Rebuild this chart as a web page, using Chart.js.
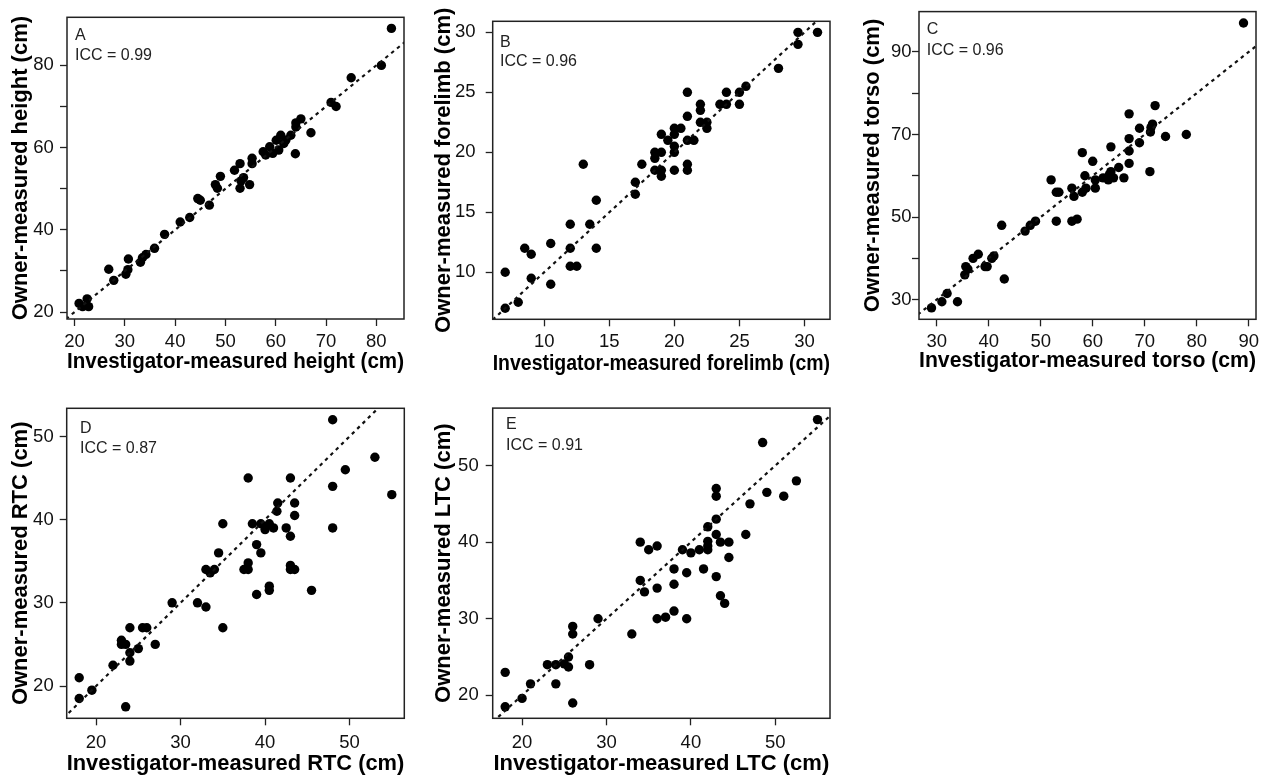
<!DOCTYPE html>
<html>
<head>
<meta charset="utf-8">
<script src="https://cdn.jsdelivr.net/npm/chart.js@4"></script>
<style>
  body { margin: 0; background: #fff; width: 1275px; height: 779px; overflow: hidden; position: relative; }
  canvas { position: absolute; }
</style>
</head>
<body>
<canvas id="pA" width="420" height="390" style="left:0;top:0"></canvas>
<canvas id="pB" width="430" height="390" style="left:420px;top:0"></canvas>
<canvas id="pC" width="425" height="390" style="left:850px;top:0"></canvas>
<canvas id="pD" width="420" height="389" style="left:0;top:390px"></canvas>
<canvas id="pE" width="430" height="389" style="left:420px;top:390px"></canvas>
<script>
// A: height (cm)
const heightInv = [83, 81, 75, 71, 72, 67, 65, 64, 64, 63.9, 61, 63, 62, 61.6, 60.1, 60.6, 58.8, 59.4, 57.5, 58,
  55.3, 55.3, 52.9, 51.8, 53.6, 53.1, 54.8, 52.9, 49, 48, 48.4, 44.5, 45, 46.8, 42.9, 41, 37.9, 35.9, 34.2, 33.5,
  33.1, 30.7, 30.6, 30.2, 26.8, 27.8, 22.5, 20.9, 21.6, 22.8];
const heightOwn = [89, 80, 77, 71, 70, 63.6, 67, 66, 65, 58.5, 63, 63, 61.8, 61, 61.8, 59.4, 60.2, 58.6, 59, 58.2,
  57.4, 56.1, 56.1, 54.5, 52.7, 51.9, 51, 50.1, 53, 51, 50.1, 47.6, 47.2, 46, 43, 41.9, 38.9, 35.5, 34, 33.2,
  32.1, 32.9, 30.3, 29.2, 30.4, 27.7, 23.2, 22.1, 21.3, 21.3];

// B: forelimb (cm)
const forelimbInv = [31, 29.5, 29.5, 28, 25.5, 25, 25, 24, 24, 23.5, 22, 22, 22, 22.5, 22.5, 21, 21, 21, 21.5, 20.5,
  20, 20, 20, 20, 20, 19.5, 19, 19, 19, 19, 18.5, 18.5, 18.5, 21, 21, 17.5, 17, 17, 13, 14,
  13.5, 14, 12, 12, 12, 12.5, 10.5, 10.5, 8.5, 9, 9, 8, 7, 7];
const forelimbOwn = [30, 30, 29, 27, 25.5, 25, 24, 25, 24, 24, 24, 23.5, 22.5, 22.5, 22, 25, 23, 21, 21, 22,
  22, 21.5, 20.5, 20, 18.5, 21, 21.5, 20, 18.5, 18, 20, 19.5, 18.5, 19, 18.5, 19, 17.5, 16.5, 19, 16,
  14, 12, 14, 12, 10.5, 10.5, 12.4, 9, 12, 11.5, 9.5, 7.5, 7, 10];

// C: torso (cm)
const torsoInv = [89, 78, 74, 72, 71.5, 71.2, 71.1, 71, 69, 69, 67, 67, 67, 67, 66, 65, 63.5, 63.5, 64, 63,
  62, 60.5, 60.5, 58.7, 60, 58.5, 58, 58, 56, 56.4, 57, 56, 53, 53, 53.5, 52, 49, 48, 47, 42.5,
  43, 41, 40.6, 39.7, 39.3, 38, 37, 35.6, 36, 35.4, 34, 32, 31, 29, 63.2];
const torsoOwn = [97, 70, 69.5, 77, 72.5, 71.7, 70.6, 61, 71.5, 68, 75, 69, 66, 63, 59.5, 62, 67, 61, 59.5, 59,
  59.5, 59, 57, 57, 63.5, 60, 65.6, 56, 57, 55, 49.5, 49, 49, 56, 56, 59, 49, 48, 46.6, 48,
  35, 40.6, 40, 38, 38, 41, 40, 38, 37.4, 36, 29.5, 31.5, 29.5, 28, 60.3];

// D: RTC (cm)
const rtcInv = [48, 53, 49.5, 48, 48, 55, 38, 43, 41.5, 43.5, 41.4, 43.5, 39.5, 38.5, 40.5, 40, 41, 42.5, 43, 39,
  39.5, 35, 34.5, 33, 33.5, 34, 38, 37.5, 38, 43, 43, 43.5, 40.5, 40.5, 39, 45.5, 32, 33, 29, 35,
  24, 25.5, 26, 23, 23, 23.5, 27, 25, 24, 24, 22, 19.5, 18, 18, 23.5];
const rtcOwn = [52, 47.5, 46, 44, 39, 43, 45, 45, 42, 42, 41, 40.5, 39.5, 39.5, 39.5, 38.8, 39, 39, 38, 37,
  36, 39.5, 36, 34, 33.6, 34, 34.8, 34, 34, 34.5, 34, 34, 32, 31.5, 31, 31.5, 30, 29.5, 30, 27,
  27, 27, 27, 25.5, 25, 25, 25, 24.5, 24, 23, 22.5, 19.5, 21, 18.5, 17.5];

// E: LTC (cm)
const ltcInv = [55, 48.5, 52.5, 49, 51, 47, 46.5, 43, 43, 43, 43, 42, 42, 42, 42, 43.5, 44.5, 44.5, 41, 40,
  39, 41.5, 39.5, 38, 38, 43, 43.5, 44, 34, 35, 36, 34, 34.5, 36, 36, 37, 38, 39.5, 29, 33,
  26, 26, 28, 25.5, 25, 25.5, 23, 24, 24, 21, 20, 26, 18, 18];
const ltcOwn = [56, 53, 48, 46.5, 46, 45, 41, 47, 46, 43, 41, 42, 40.1, 39.5, 39, 40, 40, 38, 39, 38.6,
  39, 36.5, 36, 36.5, 34.5, 35.5, 33, 32, 40, 39, 39.5, 35, 33.5, 34, 30, 30.2, 31, 30, 30, 28,
  29, 28, 24, 25, 24.1, 23.7, 24, 24, 21.5, 21.5, 19.6, 19, 23, 18.5];

// tick labels
const heightXTicks = [20, 30, 40, 50, 60, 70, 80];
const heightYTicks = [20, 30, 40, 50, 60, 70, 80];
const heightYLabels = [20, 40, 60, 80];
const forelimbTicks = [10, 15, 20, 25, 30];
const torsoXTicks = [30, 40, 50, 60, 70, 80, 90];
const torsoYTicks = [30, 40, 50, 60, 70, 80, 90];
const torsoYLabels = [30, 50, 70, 90];
const tcTicks = [20, 30, 40, 50];

const FONT = '"Liberation Sans", Arial, Helvetica, sans-serif';

// frame box + panel letter and ICC text
const boxPlugin = {
  id: 'box',
  afterDraw(chart, args, opts) {
    const { ctx, chartArea: a } = chart;
    ctx.save();
    ctx.strokeStyle = '#222';
    ctx.lineWidth = 1.5;
    ctx.strokeRect(a.left, a.top, a.right - a.left, a.bottom - a.top);
    ctx.fillStyle = '#222';
    ctx.font = '16px ' + FONT;
    ctx.textBaseline = 'alphabetic';
    ctx.fillText(opts.tag, a.left + opts.dx, a.top + opts.dy1);
    ctx.fillText(opts.icc, a.left + opts.dx, a.top + opts.dy2);
    ctx.restore();
  }
};

function panel(id, p) {
  const canvas = document.getElementById(id);
  const W = canvas.width, H = canvas.height;
  const pts = p.x.map((v, i) => ({ x: v, y: p.y[i] }));
  const lo = Math.min(p.xr[0], p.yr[0]), hi = Math.max(p.xr[1], p.yr[1]);
  const yLab = p.yLabels || p.yt;
  new Chart(canvas, {
    type: 'scatter',
    data: {
      datasets: [
        { type: 'line', data: [{ x: lo, y: lo }, { x: hi, y: hi }], borderColor: '#111', borderWidth: 2.2,
          borderDash: [3.5, 4], pointRadius: 0, fill: false },
        { data: pts, pointRadius: 4.7, backgroundColor: '#000', borderWidth: 0 }
      ]
    },
    options: {
      responsive: false,
      animation: false,
      events: [],
      layout: { padding: { top: p.box[1], right: W - p.box[2], left: 0, bottom: 0 } },
      plugins: {
        legend: { display: false },
        tooltip: { enabled: false },
        box: { tag: p.tag, icc: p.icc, dx: p.dx, dy1: p.dy1, dy2: p.dy2 }
      },
      scales: {
        x: {
          type: 'linear', min: p.xr[0], max: p.xr[1],
          afterFit: s => { s.height = H - p.box[3]; },
          afterBuildTicks: s => { s.ticks = p.xt.map(v => ({ value: v })); },
          ticks: { autoSkip: false, maxRotation: 0, padding: p.xPad, color: '#111',
            font: { family: FONT, size: 18.5 }, callback: v => String(v) },
          grid: { drawOnChartArea: false, tickLength: 7, tickColor: '#222', tickWidth: 1.3 },
          border: { display: false },
          title: { display: true, text: p.xTitle, color: '#000',
            font: { family: FONT, size: 22, weight: 'bold' }, padding: { top: 0, bottom: p.xtb } }
        },
        y: {
          type: 'linear', min: p.yr[0], max: p.yr[1],
          afterFit: s => { s.width = p.box[0]; },
          afterBuildTicks: s => { s.ticks = p.yt.map(v => ({ value: v })); },
          ticks: { autoSkip: false, padding: p.yPad, color: '#111',
            font: { family: FONT, size: 18.5 }, callback: v => yLab.includes(v) ? String(v) : '' },
          grid: { drawOnChartArea: false, tickLength: 7, tickColor: '#222', tickWidth: 1.3 },
          border: { display: false },
          title: { display: true, text: p.yTitle, color: '#000',
            font: { family: FONT, size: 22, weight: 'bold' }, padding: { top: p.ytp, bottom: 0 } }
        }
      }
    },
    plugins: [boxPlugin]
  });
}

panel('pA', {
  x: heightInv, y: heightOwn, xr: [18.5, 85.5], yr: [18.3, 91.7],
  xt: heightXTicks, yt: heightYTicks, yLabels: heightYLabels,
  box: [67, 7, 404, 319], xPad: 4.5, yPad: 6.2, xtb: 14.4, ytp: 7.8,
  xTitle: 'Investigator-measured height (cm)', yTitle: 'Owner-measured height (cm)',
  tag: 'A', icc: 'ICC = 0.99', dx: 8, dy1: 22.3, dy2: 43
});
panel('pB', {
  x: forelimbInv, y: forelimbOwn, xr: [6.04, 31.96], yr: [6.08, 30.92],
  xt: forelimbTicks, yt: forelimbTicks,
  box: [72.7, 6, 410, 319.3], xPad: 4.5, yPad: 10.2, xtb: 12.9, ytp: 10.3,
  xTitle: 'Investigator-measured forelimb (cm)', yTitle: 'Owner-measured forelimb (cm)',
  tag: 'B', icc: 'ICC = 0.96', dx: 7.3, dy1: 25.7, dy2: 44.7
});
panel('pC', {
  x: torsoInv, y: torsoOwn, xr: [26.6, 91.4], yr: [25.24, 99.76],
  xt: torsoXTicks, yt: torsoYTicks, yLabels: torsoYLabels,
  box: [69, 6.7, 406, 319.3], xPad: 4.5, yPad: 0.5, xtb: 15.4, ytp: 9.3,
  xTitle: 'Investigator-measured torso (cm)', yTitle: 'Owner-measured torso (cm)',
  tag: 'C', icc: 'ICC = 0.96', dx: 7.7, dy1: 22.6, dy2: 43.3
});
panel('pD', {
  x: rtcInv, y: rtcOwn, xr: [16.52, 56.48], yr: [16.12, 53.38],
  xt: tcTicks, yt: tcTicks,
  box: [66.7, 18.3, 404.3, 328.3], xPad: 6.2, yPad: 6, xtb: 1.8, ytp: 7.8,
  xTitle: 'Investigator-measured RTC (cm)', yTitle: 'Owner-measured RTC (cm)',
  tag: 'D', icc: 'ICC = 0.87', dx: 13.3, dy1: 25, dy2: 45
});
panel('pE', {
  x: ltcInv, y: ltcOwn, xr: [16.52, 56.48], yr: [17, 57.5],
  xt: tcTicks, yt: tcTicks,
  box: [72.7, 17.3, 410, 328.3], xPad: 6.2, yPad: 7, xtb: 1.4, ytp: 10.8,
  xTitle: 'Investigator-measured LTC (cm)', yTitle: 'Owner-measured LTC (cm)',
  tag: 'E', icc: 'ICC = 0.91', dx: 13.3, dy1: 21, dy2: 42
});
</script>
</body>
</html>
